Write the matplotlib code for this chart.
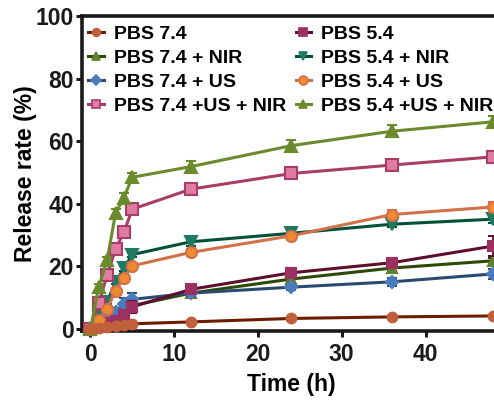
import matplotlib
matplotlib.use("Agg")
import matplotlib.pyplot as plt
from matplotlib.lines import Line2D
import numpy as np

plt.rcParams['font.family'] = ['Liberation Sans', 'DejaVu Sans']
plt.rcParams['font.weight'] = 'bold'

time_h = [0, 1, 2, 3, 4, 5, 12, 24, 36, 48]

labels = ["PBS 7.4", "PBS 7.4 + NIR", "PBS 7.4 + US", "PBS 7.4 +US + NIR",
          "PBS 5.4", "PBS 5.4 + NIR", "PBS 5.4 + US", "PBS 5.4 +US + NIR"]

pbs74 = [0, 0.4, 0.7, 1.0, 1.4, 1.7, 2.3, 3.4, 3.9, 4.2]
pbs74_nir = [0, 1.0, 2.5, 4.0, 6.0, 7.5, 11.5, 16.0, 19.5, 21.8]
pbs74_us = [0, 2.0, 4.5, 5.5, 8.0, 9.5, 11.5, 13.4, 15.1, 17.6]
pbs74_usnir = [0, 8.3, 17.3, 25.5, 31.0, 38.3, 44.7, 49.7, 52.4, 55.0]
pbs54 = [0, 0.8, 1.8, 2.7, 4.5, 7.1, 12.7, 18.0, 21.2, 26.5]
pbs54_nir = [0, 3.9, 8.7, 15.1, 19.4, 23.8, 27.9, 30.6, 33.5, 35.1]
pbs54_us = [0, 3.0, 6.5, 12.3, 16.4, 20.2, 24.5, 29.8, 36.6, 39.0]
pbs54_usnir = [0, 13.5, 22.0, 37.0, 42.0, 48.5, 51.9, 58.6, 63.2, 66.2]

err74 = [0, 0.2, 0.2, 0.2, 0.3, 0.3, 0.3, 0.4, 0.4, 0.4]
err74_nir = [0, 0.5, 0.5, 0.6, 0.8, 0.8, 0.8, 0.8, 0.8, 1.0]
err74_us = [0, 0.6, 0.8, 1.2, 1.8, 2.0, 0.8, 0.8, 1.2, 1.5]
err74_usnir = [0, 0.8, 0.8, 1.0, 1.2, 1.5, 2.0, 1.5, 1.2, 2.0]
err54 = [0, 0.4, 0.5, 0.8, 1.5, 2.0, 0.8, 1.5, 1.5, 3.2]
err54_nir = [0, 0.5, 0.6, 0.8, 0.8, 0.8, 1.2, 1.0, 1.0, 1.2]
err54_us = [0, 0.4, 0.5, 0.8, 0.8, 0.8, 1.0, 1.0, 1.5, 1.5]
err54_usnir = [0, 1.0, 1.0, 1.5, 1.5, 1.5, 1.8, 1.8, 2.0, 1.8]

values = [pbs74, pbs74_nir, pbs74_us, pbs74_usnir, pbs54, pbs54_nir, pbs54_us, pbs54_usnir]
errors = [err74, err74_nir, err74_us, err74_usnir, err54, err54_nir, err54_us, err54_usnir]

styles = [
    dict(color="#6e1c00", marker="o", mfc="#c0603a", mec="#c0603a"),
    dict(color="#2c4a05", marker="^", mfc="#5e8030", mec="#5e8030"),
    dict(color="#2b4a70", marker="D", mfc="#4a7bbf", mec="#4a7bbf"),
    dict(color="#a83d68", marker="s", mfc="#e07ca3", mec="#a83d68"),
    dict(color="#5e0f30", marker="s", mfc="#9c3060", mec="#9c3060"),
    dict(color="#00503a", marker="v", mfc="#207a62", mec="#207a62"),
    dict(color="#d0714a", marker="o", mfc="#f08a30", mec="#d0714a"),
    dict(color="#6a8a2c", marker="^", mfc="#6a8a2c", mec="#6a8a2c"),
]
msizes = [7, 7, 6, 8, 7, 8, 8, 8]
zorders = [10, 3, 4, 7, 5, 6, 8, 9]

fig = plt.figure(figsize=(4.94, 4.01), dpi=100)
ax = fig.add_axes([0.166, 0.1746, 0.848, 0.7855])

handles = []
for lab, y, e, st, ms, z in zip(labels, values, errors, styles, msizes, zorders):
    ax.errorbar(time_h, y, yerr=e, color=st["color"], marker=st["marker"],
                markerfacecolor=st["mfc"], markeredgecolor=st["mec"],
                markeredgewidth=1.5, markersize=ms, linewidth=2.2,
                elinewidth=2.0, capsize=3.5, capthick=2.0, zorder=z,
                clip_on=False)
    handles.append(Line2D([], [], color=st["color"], marker=st["marker"],
                          markerfacecolor=st["mfc"], markeredgecolor=st["mec"],
                          markeredgewidth=1.2, markersize=ms * 0.8, linewidth=2.2,
                          label=lab))

ax.set_xlim(-1, 49)
ax.set_ylim(-0.6, 100)
ax.set_xticks([0, 10, 20, 30, 40])
ax.set_yticks([0, 20, 40, 60, 80, 100])
for s in ["top", "left", "bottom", "right"]:
    ax.spines[s].set_linewidth(2.6)
    ax.spines[s].set_color("#1a1a1a")
ax.tick_params(direction="out", length=4, width=2.2, labelsize=16.5, colors="#1a1a1a")
ax.tick_params(axis="x", pad=5)
ax.tick_params(axis="y", pad=2)
for t in ax.get_xticklabels() + ax.get_yticklabels():
    t.set_fontweight("bold")
ax.set_xlabel("Time (h)", fontsize=16.5, fontweight="bold", labelpad=5)
ax.set_ylabel("Release rate (%)", fontsize=16.5, fontweight="bold", labelpad=-1)

leg = ax.legend(handles=handles, ncol=2, loc="upper left", bbox_to_anchor=(0.015, 0.97),
                frameon=False, handlelength=0.8, handletextpad=0.5,
                columnspacing=0.5, labelspacing=0.33, borderpad=0, borderaxespad=0,
                prop={"weight": "bold", "size": 14})

fig.savefig("out.png", dpi=100)
